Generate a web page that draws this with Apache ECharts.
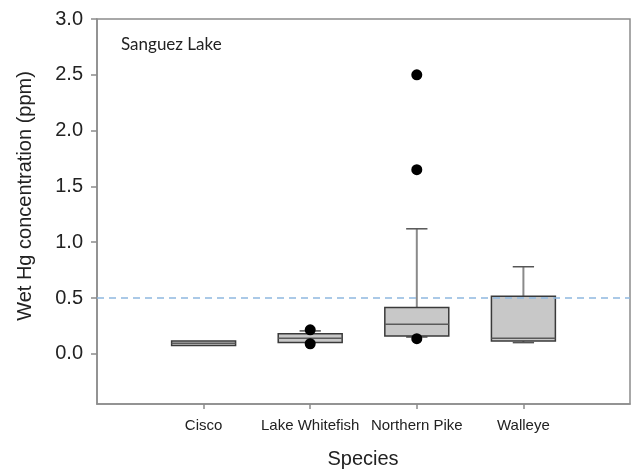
<!DOCTYPE html>
<html>
<head>
<meta charset="utf-8">
<script src="https://cdn.jsdelivr.net/npm/echarts@6/dist/echarts.min.js"></script>
<style>
  html, body { margin: 0; padding: 0; background: #ffffff; }
  #chart { width: 631px; height: 471px; }
</style>
</head>
<body>
<div id="chart"></div>
<script>
// Species along the x axis
const categories = ['Cisco', 'Lake Whitefish', 'Northern Pike', 'Walleye'];
// Box plot statistics per species (ppm)
const whiskerLow  = [0.075, 0.10, 0.15, 0.10];
const quartile1   = [0.075, 0.10, 0.16, 0.115];
const medians     = [0.095, 0.14, 0.265, 0.14];
const quartile3   = [0.115, 0.18, 0.415, 0.515];
const whiskerHigh = [0.115, 0.205, 1.12, 0.78];
// Outlying points: [species index, value]
const outlierSpecies = [1, 1, 2, 2, 2];
const outlierValues  = [0.215, 0.09, 2.5, 1.65, 0.135];
// Advisory reference level
const referenceLevel = 0.5;
// Y axis tick labels
const yTicks = [0.0, 0.5, 1.0, 1.5, 2.0, 2.5, 3.0];

const boxData = categories.map((c, i) => [i + 1, whiskerLow[i], quartile1[i], medians[i], quartile3[i], whiskerHigh[i]]);
const outlierData = outlierSpecies.map((s, i) => [s + 1, outlierValues[i]]);

function renderBox(params, api) {
  const x = api.value(0);
  const lo = api.coord([x, api.value(1)]);
  const q1 = api.coord([x, api.value(2)]);
  const md = api.coord([x, api.value(3)]);
  const q3 = api.coord([x, api.value(4)]);
  const hi = api.coord([x, api.value(5)]);
  const halfBox = api.size([0.6, 0])[0] / 2;
  const halfCap = api.size([0.2, 0])[0] / 2;
  const cx = q1[0];
  const children = [];
  const whiskerStyle = { stroke: '#8a8a8a', lineWidth: 2 };
  const capStyle = { stroke: '#555555', lineWidth: 1.5 };
  if (api.value(5) > api.value(4)) {
    children.push({ type: 'line', shape: { x1: cx, y1: q3[1], x2: cx, y2: hi[1] }, style: whiskerStyle });
    children.push({ type: 'line', shape: { x1: cx - halfCap, y1: hi[1], x2: cx + halfCap, y2: hi[1] }, style: capStyle });
  }
  if (api.value(1) < api.value(2)) {
    children.push({ type: 'line', shape: { x1: cx, y1: q1[1], x2: cx, y2: lo[1] }, style: whiskerStyle });
    children.push({ type: 'line', shape: { x1: cx - halfCap, y1: lo[1], x2: cx + halfCap, y2: lo[1] }, style: capStyle });
  }
  children.push({
    type: 'rect',
    shape: { x: cx - halfBox, y: q3[1], width: halfBox * 2, height: Math.max(q1[1] - q3[1], 1) },
    style: { fill: '#c8c8c8', stroke: '#3a3a3a', lineWidth: 1.5 }
  });
  children.push({ type: 'line', shape: { x1: cx - halfBox, y1: md[1], x2: cx + halfBox, y2: md[1] }, style: { stroke: '#5a5a5a', lineWidth: 1.5 } });
  return { type: 'group', children: children };
}

const chart = echarts.init(document.getElementById('chart'), null, { renderer: 'canvas' });
chart.setOption({
  animation: false,
  backgroundColor: '#ffffff',
  grid: {
    left: 97, right: 1, top: 19, bottom: 67,
    show: true, borderColor: '#8c8c8c', borderWidth: 1.5, backgroundColor: 'transparent'
  },
  xAxis: {
    type: 'value', min: 0, max: 5,
    splitLine: { show: false },
    axisLine: { show: true, onZero: false, lineStyle: { color: '#8c8c8c', width: 1.5 } },
    axisTick: { show: true, customValues: [1, 2, 3, 4], length: 5, lineStyle: { color: '#8c8c8c', width: 1.5 } },
    axisLabel: {
      customValues: [1, 2, 3, 4], margin: 14,
      formatter: v => categories[Math.round(v) - 1] || '',
      fontFamily: 'Liberation Sans', fontSize: 15, color: '#222222'
    }
  },
  yAxis: {
    type: 'value', min: -0.45, max: 3.0,
    splitLine: { show: false },
    axisLine: { show: true, onZero: false, lineStyle: { color: '#8c8c8c', width: 1.5 } },
    axisTick: { show: true, customValues: yTicks, length: 6, lineStyle: { color: '#8c8c8c', width: 1.5 } },
    axisLabel: {
      customValues: yTicks, margin: 14,
      formatter: v => v.toFixed(1),
      fontFamily: 'Liberation Sans', fontSize: 20, color: '#222222'
    }
  },
  graphic: [
    {
      type: 'text', left: 121, top: 36,
      style: { text: 'Sanguez Lake', font: '17px Lato', fill: '#222222' }
    },
    {
      type: 'text', x: 25, y: 196, rotation: Math.PI / 2,
      style: { text: 'Wet Hg concentration (ppm)', font: '20px "Liberation Sans"', fill: '#222222', align: 'center', verticalAlign: 'middle' }
    },
    {
      type: 'text', x: 363, y: 459,
      style: { text: 'Species', font: '20px "Liberation Sans"', fill: '#222222', align: 'center', verticalAlign: 'middle' }
    }
  ],
  series: [
    {
      type: 'custom',
      renderItem: renderBox,
      data: boxData,
      encode: { x: 0, y: [1, 2, 3, 4, 5] },
      z: 2,
      markLine: {
        silent: true, symbol: 'none', label: { show: false },
        lineStyle: { color: '#8fb8e0', type: [7, 5], width: 1.5 },
        data: [{ yAxis: referenceLevel }]
      }
    },
    {
      type: 'scatter',
      data: outlierData,
      symbol: 'circle', symbolSize: 11,
      itemStyle: { color: '#000000', opacity: 1 },
      z: 5
    }
  ]
});
</script>
</body>
</html>
